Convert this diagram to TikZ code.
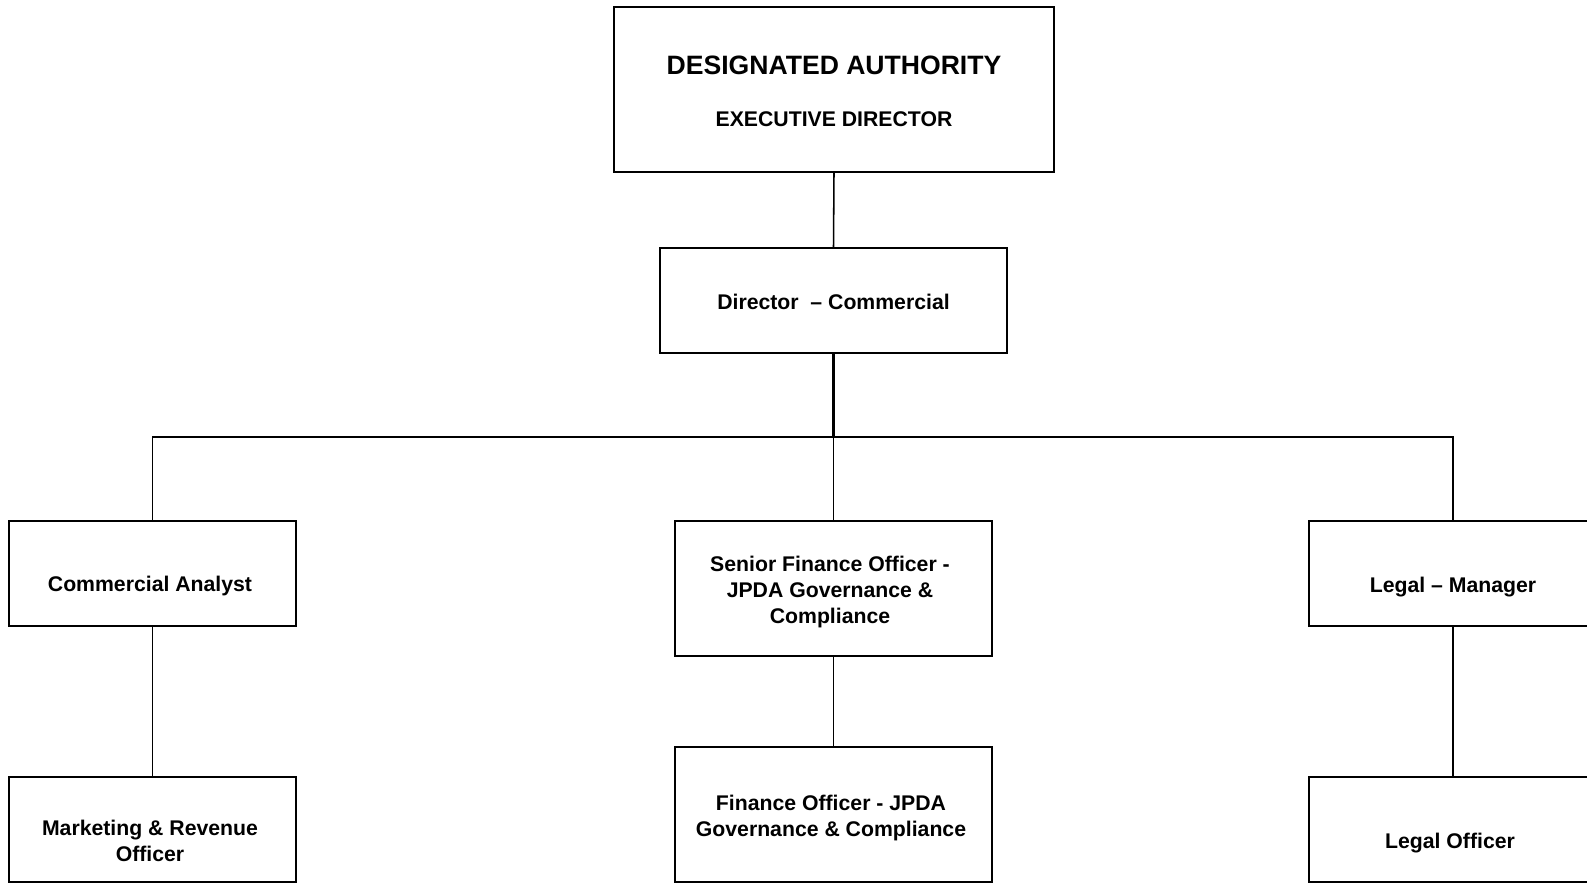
\documentclass[tikz,border=0pt]{standalone}
\usepackage{fontspec}
\setmainfont{Liberation Sans}

\tikzset{
  post/.style={draw,line width=1.1pt,inner sep=0pt},
  postname/.style={font=\bfseries\fontsize{15.1}{18.2}\selectfont,align=center,inner sep=0pt},
  link/.style={line width=1.1pt}
}

\begin{document}
\begin{tikzpicture}[x=0.025cm,y=-0.025cm]
\useasboundingbox (0,0) rectangle (1587,883);

% boxes
\node[post,minimum width=11cm,minimum height=4.125cm] (da) at (834,89.5) {};
\node[post,minimum width=8.675cm,minimum height=2.625cm] (dc) at (833.5,300.5) {};
\node[post,minimum width=7.175cm,minimum height=2.625cm] (ca) at (152.5,573.3) {};
\node[post,minimum width=7.925cm,minimum height=3.375cm] (sfo) at (833.5,588.5) {};
\node[post,minimum width=7.2cm,minimum height=2.625cm] (lm) at (1453,573.3) {};
\node[post,minimum width=7.175cm,minimum height=2.625cm] (mro) at (152.5,829.5) {};
\node[post,minimum width=7.925cm,minimum height=3.375cm] (fo) at (833.5,814.5) {};
\node[post,minimum width=7.2cm,minimum height=2.625cm] (lo) at (1453,829.5) {};

% texts
\node[postname,font=\bfseries\fontsize{18.9}{22}\selectfont] (daTitle) at (834,65) {DESIGNATED AUTHORITY};
\node[postname] (daRole) at (834,119) {EXECUTIVE DIRECTOR};
\node[postname] (dcName) at (833.5,301.6) {Director\ \ – Commercial};
\node[postname] (caName) at (150,586) {Commercial Analyst};
\node[postname] (sfoName) at (830,592) {Senior Finance Officer -\\JPDA Governance \&\\Compliance};
\node[postname] (lmName) at (1453,587) {Legal – Manager};
\node[postname] (mroName) at (150,841) {Marketing \& Revenue\\Officer};
\node[postname] (foName) at (831,818) {Finance Officer - JPDA\\Governance \& Compliance};
\node[postname] (loName) at (1450,843) {Legal Officer};

% lines
\coordinate (hub) at (833.5,437);
\draw[link] (da.south) -- (dc.north);
\draw[link,line width=2pt] (dc.south) -- (hub);
\draw[link] (ca.north) |- (hub) -| (lm.north);
\draw[link] (hub) -- (sfo.north);
\draw[link] (ca.south) -- (mro.north);
\draw[link] (sfo.south) -- (fo.north);
\draw[link] (lm.south) -- (lo.north);

\end{tikzpicture}
\end{document}
